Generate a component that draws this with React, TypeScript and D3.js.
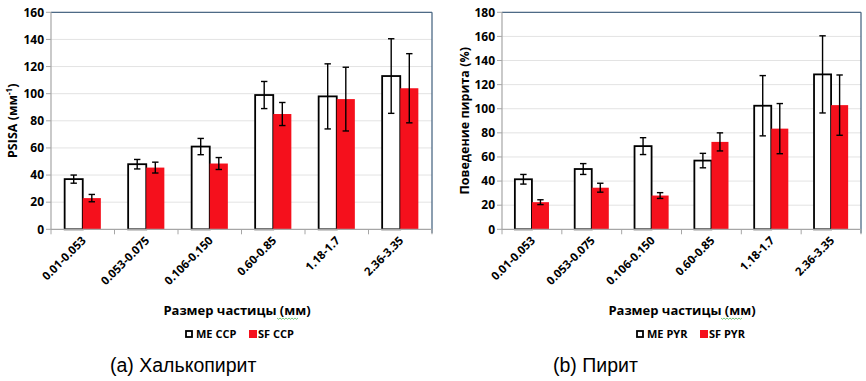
import React from "react";
import * as d3 from "d3";

const categories = ["0.01-0.053", "0.053-0.075", "0.106-0.150", "0.60-0.85", "1.18-1.7", "2.36-3.35"];

const ccpME = [37, 48, 61, 99, 98, 113];
const ccpMEErr = [3, 3.5, 6, 10, 24, 27.5];
const ccpSF = [23, 45.5, 48.5, 85, 96, 104];
const ccpSFErr = [2.7, 4, 4.4, 8.5, 23.5, 25.5];

const pyrME = [41.5, 50, 69, 57, 102.5, 128.5];
const pyrMEErr = [4, 4.5, 7, 6, 25, 32];
const pyrSF = [22.5, 34.5, 28, 72.5, 83.5, 103];
const pyrSFErr = [2, 3.7, 2.4, 7.5, 20.8, 25];

const ccpTicks = [0, 20, 40, 60, 80, 100, 120, 140, 160];
const pyrTicks = [0, 20, 40, 60, 80, 100, 120, 140, 160, 180];

const RED = "#f5101c";
const FONT = "'Open Sans', 'DejaVu Sans', sans-serif";

type PanelProps = {
  x0: number; x1: number; y0: number; y1: number;
  ticks: number[]; me: number[]; meErr: number[]; sf: number[]; sfErr: number[];
  yTitle: React.ReactNode; yTitleX: number; xTitleX: number;
  legendME: string; legendSF: string; legendX: number;
  caption: string; captionX: number;
  squiggle: { x: number; y: number; w: number }[];
};

function wave(x: number, y: number, w: number) {
  const pts: string[] = [];
  const step = 1.5;
  for (let i = 0; i <= w / step; i++) {
    const a = i * step;
    const b = i % 2 === 0 ? 0 : 1.3;
    pts.push(`${x + a},${y + b}`);
  }
  return "M" + pts.join("L");
}

function Panel(p: PanelProps) {
  const ymax = p.ticks[p.ticks.length - 1];
  const y = d3.scaleLinear().domain([0, ymax]).range([p.y1, p.y0]);
  const x = d3.scaleBand<string>().domain(categories).range([p.x0, p.x1]).padding(0);
  const bw = x.bandwidth();
  const barW = bw * 0.285;
  const boundaries = categories.map((c) => x(c) as number).concat([p.x1]);
  const cap = 3.2;
  const errBar = (cx: number, v: number, e: number, key: string) => (
    <g key={key} stroke="#000" strokeWidth={1.4}>
      <line x1={cx} x2={cx} y1={y(v + e)} y2={y(v - e)} />
      <line x1={cx - cap} x2={cx + cap} y1={y(v + e)} y2={y(v + e)} />
      <line x1={cx - cap} x2={cx + cap} y1={y(v - e)} y2={y(v - e)} />
    </g>
  );
  return (
    <g fontFamily={FONT}>
      {p.ticks.slice(1).map((t) => (
        <line key={"g" + t} x1={p.x0} x2={p.x1} y1={y(t)} y2={y(t)} stroke="#e3e3e3" strokeWidth={1} />
      ))}
      <line x1={p.x0} x2={p.x1} y1={p.y0} y2={p.y0} stroke="#4d6a86" strokeWidth={1.3} />
      <line x1={p.x1} x2={p.x1} y1={p.y0} y2={p.y1 + 4} stroke="#4d6a86" strokeWidth={1.3} />
      {categories.map((c, i) => {
        const cx = (x(c) as number) + bw / 2;
        return (
          <g key={c}>
            <rect x={cx - barW} y={y(p.me[i])} width={barW} height={p.y1 - y(p.me[i])} fill="#fff" stroke="#000" strokeWidth={1.8} />
            <rect x={cx} y={y(p.sf[i])} width={barW} height={p.y1 - y(p.sf[i])} fill={RED} />
          </g>
        );
      })}
      {categories.map((c, i) => {
        const cx = (x(c) as number) + bw / 2;
        return (
          <g key={"e" + c}>
            {errBar(cx - barW / 2, p.me[i], p.meErr[i], "m")}
            {errBar(cx + barW / 2, p.sf[i], p.sfErr[i], "s")}
          </g>
        );
      })}
      <line x1={p.x0} x2={p.x0} y1={p.y0} y2={p.y1} stroke="#a6a6a6" strokeWidth={1.2} />
      <line x1={p.x0} x2={p.x1} y1={p.y1} y2={p.y1} stroke="#a6a6a6" strokeWidth={1.2} />
      {p.ticks.map((t) => (
        <g key={"t" + t}>
          <line x1={p.x0 - 5} x2={p.x0} y1={y(t)} y2={y(t)} stroke="#a6a6a6" strokeWidth={1} />
          <text x={p.x0 - 7} y={y(t)} dy="0.35em" textAnchor="end" fontSize={12} fontWeight={700} fill="#000">{t}</text>
        </g>
      ))}
      {boundaries.map((b, i) => (
        <line key={"b" + i} x1={b} x2={b} y1={p.y1} y2={p.y1 + 5} stroke="#a6a6a6" strokeWidth={1} />
      ))}
      {categories.map((c) => {
        const cx = (x(c) as number) + bw / 2;
        return (
          <text key={"l" + c} transform={`translate(${cx + 4},${p.y1 + 12}) rotate(-45)`} textAnchor="end" fontSize={11.5} fontWeight={700} fill="#000">{c}</text>
        );
      })}
      <text transform={`translate(${p.yTitleX},${(p.y0 + p.y1) / 2}) rotate(-90)`} textAnchor="middle" fontSize={12.5} fontWeight={700} fill="#000">{p.yTitle}</text>
      <text x={p.xTitleX} y={315} textAnchor="middle" fontSize={13} fontWeight={700} fill="#000">Размер частицы (мм)</text>
      {p.squiggle.map((s, i) => (
        <path key={"w" + i} d={wave(s.x, s.y, s.w)} fill="none" stroke="#3cb043" strokeWidth={0.7} />
      ))}
      <rect x={p.legendX + 1} y={331} width={6} height={6} fill="#fff" stroke="#000" strokeWidth={1.8} />
      <text x={p.legendX + 11} y={338} fontSize={11} fontWeight={700} fill="#000">{p.legendME}</text>
      <rect x={p.legendX + 64} y={330} width={8} height={8} fill={RED} />
      <text x={p.legendX + 73} y={338} fontSize={11} fontWeight={700} fill="#000">{p.legendSF}</text>
      <text x={p.captionX} y={372} fontSize={19.5} fontFamily="'Liberation Sans', Arial, sans-serif" fill="#000">{p.caption}</text>
    </g>
  );
}

export default function App() {
  return (
    <svg width={866} height={381} style={{ position: "absolute", left: 0, top: 0, background: "#fff" }}>
      <rect width={866} height={381} fill="#fff" />
      <Panel
        x0={51} x1={432} y0={12.3} y1={229.3}
        ticks={ccpTicks} me={ccpME} meErr={ccpMEErr} sf={ccpSF} sfErr={ccpSFErr}
        yTitle={<>PSISA (мм<tspan dy={-5} fontSize={8}>-1</tspan><tspan dy={5}>)</tspan></>}
        yTitleX={17} xTitleX={237}
        legendME="ME CCP" legendSF="SF CCP" legendX={185}
        caption="(a) Халькопирит" captionX={110}
        squiggle={[{ x: 277, y: 318, w: 22 }]}
      />
      <Panel
        x0={502} x1={861} y0={12.3} y1={229.3}
        ticks={pyrTicks} me={pyrME} meErr={pyrMEErr} sf={pyrSF} sfErr={pyrSFErr}
        yTitle="Поведение пирита (%)"
        yTitleX={469} xTitleX={682}
        legendME="ME PYR" legendSF="SF PYR" legendX={636}
        caption="(b) Пирит" captionX={553}
        squiggle={[{ x: 721, y: 318, w: 22 }]}
      />
    </svg>
  );
}
